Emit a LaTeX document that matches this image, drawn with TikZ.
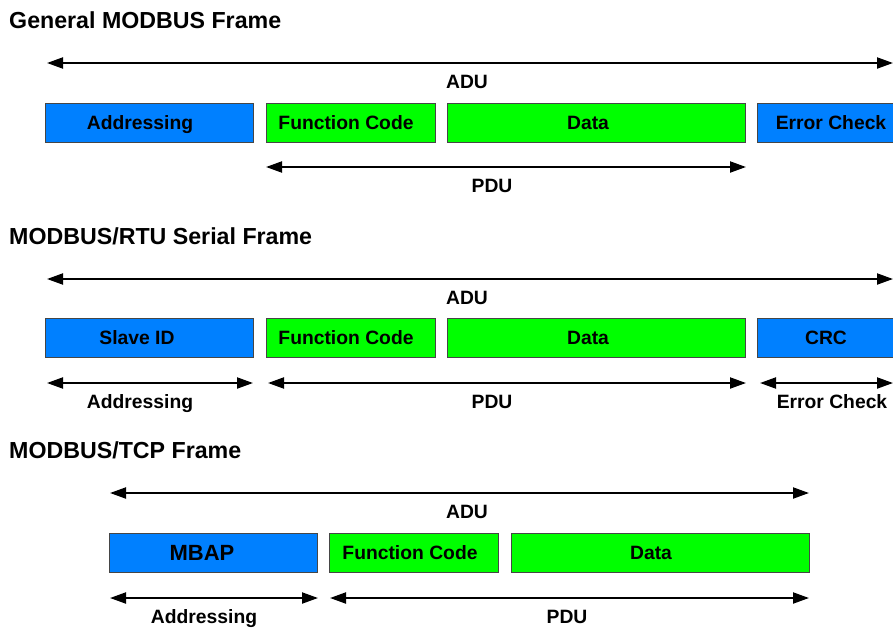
\documentclass[tikz,border=0pt]{standalone}
\usepackage{fontspec}
\setmainfont{Liberation Sans}
\usetikzlibrary{arrows.meta}
\definecolor{mbblue}{RGB}{0,128,255}
\definecolor{mbgreen}{RGB}{0,255,0}
\definecolor{mbedge}{RGB}{70,70,70}
\tikzset{
  x=1pt, y=-1pt,
  frametitle/.style={anchor=west, inner sep=0pt, text height=16.5pt, text depth=0pt, font=\bfseries\fontsize{23.2}{26}\selectfont},
  boxlabel/.style={inner sep=0pt, text height=13.8pt, text depth=0pt, font=\bfseries\fontsize{19.3}{22}\selectfont},
  biglabel/.style={inner sep=0pt, text height=15.8pt, text depth=0pt, font=\bfseries\fontsize{22}{25}\selectfont},
  fieldbox/.style={draw=mbedge, line width=0.9pt, minimum height=39pt, inner sep=0pt},
  bluebox/.style={fieldbox, fill=mbblue},
  greenbox/.style={fieldbox, fill=mbgreen},
  dimarrow/.style={line width=2pt, {Triangle[length=16pt,width=11pt]}-{Triangle[length=16pt,width=11pt]}}
}
\begin{document}
\begin{tikzpicture}
\useasboundingbox (0,0) rectangle (893,627);
\clip (0,0) rectangle (893,627);
\fill[white] (0,0) rectangle (893,627);

% ---------- General MODBUS Frame ----------
\node[frametitle] (t1) at (9,20) {General MODBUS Frame};
\coordinate (a1l) at (47,63); \coordinate (a1r) at (893,63);
\draw[dimarrow] (a1l) -- (a1r);
\node[boxlabel] (adu1) at (467,82) {ADU};
\node[bluebox, minimum width=208pt] (b11) at (149,122.5) {};
\node[greenbox, minimum width=169pt] (b12) at (350.5,122.5) {};
\node[greenbox, minimum width=298pt] (b13) at (596,122.5) {};
\node[bluebox, minimum width=160pt] (b14) at (837,122.5) {};
\node[boxlabel] (l11) at (140,122.5) {Addressing};
\node[boxlabel] (l12) at (346,122.5) {Function Code};
\node[boxlabel] (l13) at (588,122.5) {Data};
\node[boxlabel] (l14) at (831,122.5) {Error Check};
\coordinate (p1l) at (266,167); \coordinate (p1r) at (746,167);
\draw[dimarrow] (p1l) -- (p1r);
\node[boxlabel] (pdu1) at (492,186) {PDU};

% ---------- MODBUS/RTU Serial Frame ----------
\node[frametitle] (t2) at (9,236) {MODBUS/RTU Serial Frame};
\coordinate (a2l) at (47,279); \coordinate (a2r) at (893,279);
\draw[dimarrow] (a2l) -- (a2r);
\node[boxlabel] (adu2) at (467,298) {ADU};
\node[bluebox, minimum width=208pt] (b21) at (149,337.5) {};
\node[greenbox, minimum width=169pt] (b22) at (350.5,337.5) {};
\node[greenbox, minimum width=298pt] (b23) at (596,337.5) {};
\node[bluebox, minimum width=160pt] (b24) at (837,337.5) {};
\node[boxlabel] (l21) at (137,337.5) {Slave ID};
\node[boxlabel] (l22) at (346,337.5) {Function Code};
\node[boxlabel] (l23) at (588,337.5) {Data};
\node[boxlabel] (l24) at (826,337.5) {CRC};
\coordinate (d21l) at (47,383); \coordinate (d21r) at (253,383);
\coordinate (d22l) at (268,383); \coordinate (d22r) at (746,383);
\coordinate (d23l) at (760,383); \coordinate (d23r) at (893,383);
\draw[dimarrow] (d21l) -- (d21r);
\draw[dimarrow] (d22l) -- (d22r);
\draw[dimarrow] (d23l) -- (d23r);
\node[boxlabel] (e21) at (140,402) {Addressing};
\node[boxlabel] (e22) at (492,402) {PDU};
\node[boxlabel] (e23) at (832,402) {Error Check};

% ---------- MODBUS/TCP Frame ----------
\node[frametitle] (t3) at (9,450) {MODBUS/TCP Frame};
\coordinate (a3l) at (110,493); \coordinate (a3r) at (809,493);
\draw[dimarrow] (a3l) -- (a3r);
\node[boxlabel] (adu3) at (467,512) {ADU};
\node[bluebox, minimum width=208pt] (b31) at (213,552.5) {};
\node[greenbox, minimum width=169pt] (b32) at (413.5,552.5) {};
\node[greenbox, minimum width=298pt] (b33) at (660,552.5) {};
\node[biglabel] (l31) at (202,552.5) {MBAP};
\node[boxlabel] (l32) at (410,552.5) {Function Code};
\node[boxlabel] (l33) at (651,552.5) {Data};
\coordinate (d31l) at (110,598); \coordinate (d31r) at (318,598);
\coordinate (d32l) at (330,598); \coordinate (d32r) at (809,598);
\draw[dimarrow] (d31l) -- (d31r);
\draw[dimarrow] (d32l) -- (d32r);
\node[boxlabel] (e31) at (204,617) {Addressing};
\node[boxlabel] (e32) at (567,617) {PDU};
\end{tikzpicture}
\end{document}
